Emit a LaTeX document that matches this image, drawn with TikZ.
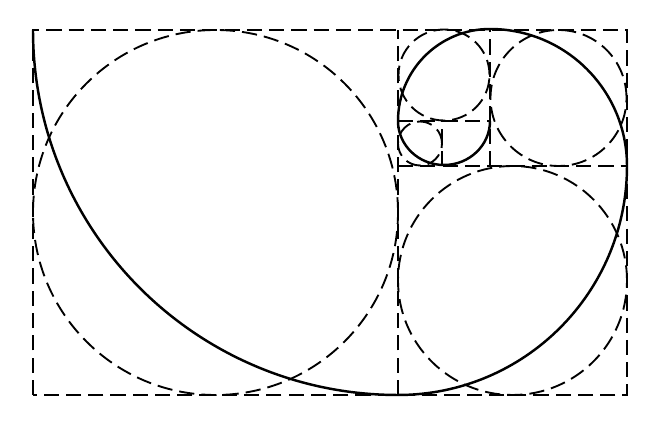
\documentclass[tikz,border=0pt]{standalone}
\usepackage{tikz}
\usetikzlibrary{arrows}

\tikzset{guide/.style={line width=1.6pt,dash pattern=on 13pt off 6pt},
         spiral/.style={line width=2.1pt}}

\begin{document}
\begin{tikzpicture}[x=0.03cm,y=0.03cm]
\useasboundingbox (0,0) rectangle (661,429);

% squares
\draw[guide] (33,34) rectangle (627,399);
\draw[guide] (398,34) -- (398,399);
\draw[guide] (398,263) -- (627,263);
\draw[guide] (490,263) -- (490,399);
\draw[guide] (398,308) -- (490,308);
\draw[guide] (442,263) -- (442,308);

% inscribed circles
\draw[guide] (215.5,216.5) circle (182.5);
\draw[guide] (512.5,148.5) circle (114.5);
\draw[guide] (558.5,331)   circle (68);
\draw[guide] (444,354)     circle (45.5);
\draw[guide] (420,285.5)   circle (22);

% spiral
\draw[spiral] (33,399) arc[start angle=180,end angle=270,radius=365]
                       arc[start angle=270,end angle=360,radius=229]
                       arc[start angle=0,end angle=90,radius=137]
                       arc[start angle=90,end angle=180,radius=92]
                       arc[start angle=180,end angle=360,x radius=46,y radius=44];

\end{tikzpicture}
\end{document}
